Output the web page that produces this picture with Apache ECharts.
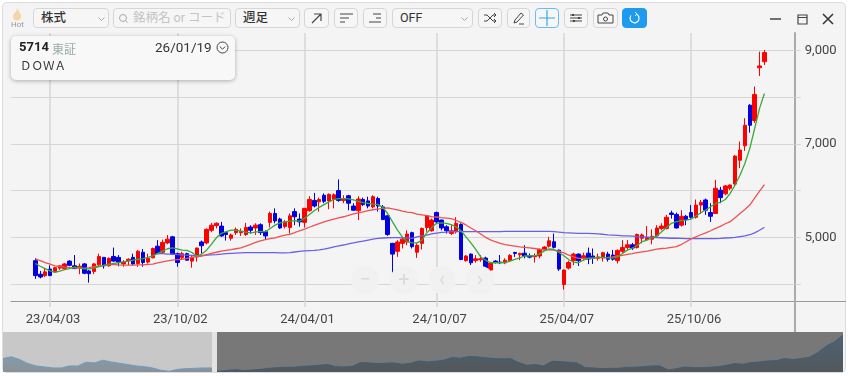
<!DOCTYPE html>
<html><head><meta charset="utf-8">
<script src="https://cdn.jsdelivr.net/npm/echarts@6/dist/echarts.min.js"></script>
<style>
html,body{margin:0;padding:0;width:850px;height:376px;background:#fff;overflow:hidden;font-family:Roboto,"Noto Sans CJK JP",sans-serif}
#panel{position:absolute;left:2px;top:2px;width:844px;height:371px;background:#f4f4f4;border:1px solid #dcdcdc;border-radius:5px;box-sizing:border-box}
#chart{position:absolute;left:0;top:0;width:850px;height:376px}
.b{position:absolute;top:8px;height:20px;box-sizing:border-box;border:1px solid #d6d6d6;border-radius:4px;background:#f6f6f6;font-size:12.500px;color:#333;line-height:18px;padding-left:7px}
.b svg{position:absolute;left:0;top:0}
.ic{padding:0;text-align:center}
#info{position:absolute;left:11px;top:36px;width:224px;height:44px;background:#f8f8f8;border-radius:5px;box-shadow:0 1px 4px rgba(0,0,0,.3)}
.t{position:absolute;white-space:nowrap}
.nav{position:absolute;top:266px;width:28px;height:28px;border-radius:14px;background:#f1f1f1;color:#dadada;text-align:center;font-size:20px;line-height:27px}
</style></head>
<body>
<div id="panel"></div>
<div id="chart"></div>
<div class="nav" style="left:351px">−</div><div class="nav" style="left:390px">+</div><div class="nav" style="left:428px">‹</div><div class="nav" style="left:466px">›</div>
<svg class="t" style="left:11px;top:8px" width="12" height="13" viewBox="0 0 12 13"><path d="M6 0C7 3 10 5 10 8.500C10 11 8 12.500 6 12.500C4 12.500 2 11 2 8.500C2 6.500 3.500 6 4 4C5 5 5.500 3 6 0Z" fill="#f2d7a6"/></svg>
<div class="t" style="left:11px;top:20px;font-size:8px;color:#999">Hot</div>
<div class="b" style="left:33px;width:76px"><b style="font-weight:500">株式</b><svg style="left:64px;top:8px" width="7" height="4"><path d="M.5 .5L3.500 3.500L6.500 .5" stroke="#aaa" fill="none"/></svg></div>
<div class="b" style="left:113px;width:118px;color:#c4c4c4;padding-left:19px"><svg style="left:4px;top:4px" width="11" height="11"><circle cx="5" cy="5" r="3.500" stroke="#aaa" fill="none"/><path d="M7.500 7.500L9.500 9.500" stroke="#aaa"/></svg>銘柄名 or コード</div>
<div class="b" style="left:235px;width:65px"><b style="font-weight:500">週足</b><svg style="left:52px;top:8px" width="7" height="4"><path d="M.5 .5L3.500 3.500L6.500 .5" stroke="#aaa" fill="none"/></svg></div>
<div class="b ic" style="left:304px;width:25px"><svg width="23" height="18"><path d="M7 14L16 5M9 5H16V12" stroke="#444" fill="none" stroke-width="1.200"/></svg></div>
<div class="b ic" style="left:334px;width:24px"><svg width="22" height="18"><path d="M5 5H18M5 9H14M5 13H10" stroke="#444" fill="none"/></svg></div>
<div class="b ic" style="left:363px;width:24px"><svg width="22" height="18"><path d="M9 5H17M12 9H17M5 13H17" stroke="#444" fill="none"/></svg></div>
<div class="b" style="left:392px;width:81px">OFF<svg style="left:68px;top:8px" width="7" height="4"><path d="M.5 .5L3.500 3.500L6.500 .5" stroke="#aaa" fill="none"/></svg></div>
<div class="b ic" style="left:478px;width:24px"><svg width="22" height="18"><path d="M5 6H8L14 12H17M5 12H8L14 6H17M15 4L17 6L15 8M15 10L17 12L15 14" stroke="#444" fill="none"/></svg></div>
<div class="b ic" style="left:507px;width:23px"><svg width="21" height="18"><path d="M6 14L7 11L13 4L15.500 6L9 13ZM11 15H16" stroke="#444" fill="none"/></svg></div>
<div class="b ic" style="left:535px;width:24px;border-color:#6bbcf5"><svg width="22" height="18"><path d="M3 9H19M11 1V17" stroke="#3aa4ee" fill="none" stroke-width="1.200"/></svg></div>
<div class="b ic" style="left:564px;width:24px"><svg width="22" height="18"><path d="M5 6H17M5 9H17M5 12H17" stroke="#444"/><path d="M8 5V7M14 8V10M9 11V13" stroke="#444" stroke-width="2"/></svg></div>
<div class="b ic" style="left:593px;width:25px"><svg width="23" height="18"><path d="M4 6H8L9 4H14L15 6H19V14H4Z" stroke="#444" fill="none"/><circle cx="11.500" cy="10" r="2" stroke="#444" fill="none"/></svg></div>
<div class="b ic" style="left:622px;width:25px;background:#1e9bf0;border-color:#1e9bf0"><svg width="23" height="18"><path d="M13 5A4.500 4.500 0 1 1 8 6.500" stroke="#fff" fill="none" stroke-width="1.200"/><path d="M12 3L14 5L12 7" stroke="#fff" fill="none"/></svg></div>
<svg class="t" style="left:765px;top:10px" width="75" height="18"><path d="M5 9H16" stroke="#444" stroke-width="1.500"/><path d="M33 5H42V14H33ZM33 7.500H42" stroke="#444" fill="none" stroke-width="1.200"/><path d="M58 4L68 14M68 4L58 14" stroke="#333" stroke-width="1.500"/></svg>
<div id="info">
<div class="t" style="left:8px;top:3px;font-size:13px;font-weight:700;color:#222">5714</div>
<div class="t" style="left:41px;top:4px;font-size:12px;color:#9aa">東証</div>
<div class="t" style="left:144px;top:3px;font-size:13.500px;color:#333">26/01/19</div>
<svg class="t" style="left:205px;top:5px" width="13" height="13"><circle cx="6.500" cy="6.500" r="5.500" stroke="#444" fill="none"/><path d="M3.800 5.500L6.500 8.200L9.200 5.500" stroke="#444" fill="none"/></svg>
<div class="t" style="left:9px;top:21px;font-size:11.500px;color:#333">ＤＯＷＡ</div>
</div>
<script>
const categories=['23/02/06','23/02/13','23/02/20','23/02/27','23/03/06','23/03/13','23/03/20','23/03/27','23/04/03','23/04/10','23/04/17','23/04/24','23/05/01','23/05/08','23/05/15','23/05/22','23/05/29','23/06/05','23/06/12','23/06/19','23/06/26','23/07/03','23/07/10','23/07/17','23/07/24','23/07/31','23/08/07','23/08/14','23/08/21','23/08/28','23/09/04','23/09/11','23/09/18','23/09/25','23/10/02','23/10/09','23/10/16','23/10/23','23/10/30','23/11/06','23/11/13','23/11/20','23/11/27','23/12/04','23/12/11','23/12/18','23/12/25','24/01/01','24/01/08','24/01/15','24/01/22','24/01/29','24/02/05','24/02/12','24/02/19','24/02/26','24/03/04','24/03/11','24/03/18','24/03/25','24/04/01','24/04/08','24/04/15','24/04/22','24/04/29','24/05/06','24/05/13','24/05/20','24/05/27','24/06/03','24/06/10','24/06/17','24/06/24','24/07/01','24/07/08','24/07/15','24/07/22','24/07/29','24/08/05','24/08/12','24/08/19','24/08/26','24/09/02','24/09/09','24/09/16','24/09/23','24/09/30','24/10/07','24/10/14','24/10/21','24/10/28','24/11/04','24/11/11','24/11/18','24/11/25','24/12/02','24/12/09','24/12/16','24/12/23','24/12/30','25/01/06','25/01/13','25/01/20','25/01/27','25/02/03','25/02/10','25/02/17','25/02/24','25/03/03','25/03/10','25/03/17','25/03/24','25/03/31','25/04/07','25/04/14','25/04/21','25/04/28','25/05/05','25/05/12','25/05/19','25/05/26','25/06/02','25/06/09','25/06/16','25/06/23','25/06/30','25/07/07','25/07/14','25/07/21','25/07/28','25/08/04','25/08/11','25/08/18','25/08/25','25/09/01','25/09/08','25/09/15','25/09/22','25/09/29','25/10/06','25/10/13','25/10/20','25/10/27','25/11/03','25/11/10','25/11/17','25/11/24','25/12/01','25/12/08','25/12/15','25/12/22','25/12/29','26/01/05','26/01/12','26/01/19','26/01/26','26/02/02','26/02/09','26/02/16','26/02/23','26/03/02'];
const firstWeek='23/03/13';
const dateTicks=['23/04/03','23/10/02','24/04/01','24/10/07','25/04/07','25/10/06'];
const priceTicks=[4000,5000,6000,7000,8000,9000];
const priceLabels=[5000,7000,9000];
const opens=[4500,4210,4180,4320,4260,4340,4330,4490,4390,4350,4430,4280,4270,4410,4570,4390,4590,4570,4430,4500,4570,4440,4680,4470,4560,4810,4680,4880,5010,4650,4570,4650,4490,4580,4900,4880,5150,5250,5240,5100,4980,5100,5100,5060,5220,5200,5270,5120,5320,5510,5390,5230,5210,5550,5390,5320,5570,5790,5760,5900,5780,5810,6000,5790,5890,5670,5570,5810,5780,5650,5830,5650,5460,4870,4700,4870,4900,5100,4680,4870,5210,5140,5530,5370,5225,5080,5120,5275,4500,4640,4500,4520,4555,4300,4490,4470,4455,4500,4675,4625,4660,4610,4585,4600,4730,4810,4905,4725,3990,4340,4500,4640,4545,4660,4600,4550,4560,4640,4620,4500,4700,4780,4840,4780,4980,4950,4960,5030,5190,5190,5520,5490,5260,5450,5530,5430,5690,5800,5530,5510,6010,5930,6050,6140,6650,6960,7830,7500,8630,8760];
const closes=[4180,4150,4260,4180,4350,4390,4430,4400,4330,4380,4230,4220,4430,4590,4390,4550,4490,4470,4470,4530,4430,4700,4460,4550,4760,4650,4890,4960,4640,4460,4650,4510,4570,4770,4820,5170,5260,5300,5030,5060,5050,5170,5130,5210,5150,5260,5100,5030,5510,5350,5200,5330,5460,5440,5330,5620,5810,5670,5810,5770,5920,5910,5790,5830,5730,5580,5820,5700,5670,5870,5670,5380,5060,4640,4900,4960,5070,4800,4830,5190,5460,5370,5330,5200,5140,5140,5300,4525,4600,4455,4540,4540,4310,4450,4460,4455,4510,4610,4655,4655,4600,4575,4605,4740,4790,4925,4785,4320,4300,4460,4640,4500,4605,4535,4550,4580,4670,4530,4530,4720,4780,4840,4770,5060,5050,5000,5020,5200,5240,5430,5490,5200,5450,5380,5430,5690,5750,5580,5450,6050,5850,6100,6120,6740,6870,7400,7400,8060,8670,8955];
const lows=[4110,4120,4150,4170,4250,4300,4300,4380,4320,4210,4210,4030,4210,4370,4330,4370,4480,4380,4370,4400,4400,4370,4370,4440,4550,4640,4650,4850,4620,4370,4530,4500,4350,4480,4650,4850,5110,5190,5010,4930,4930,5050,5030,5030,5080,5050,5050,4960,5210,5300,5180,5190,5080,5260,5230,5210,5550,5640,5550,5730,5600,5620,5760,5730,5580,5570,5370,5670,5620,5620,5550,5370,5030,4230,4580,4760,4830,4760,4560,4740,5120,5120,5300,5150,5080,5050,5080,4510,4480,4405,4455,4475,4300,4260,4440,4425,4425,4475,4580,4510,4550,4550,4460,4550,4710,4780,4760,4280,3880,4310,4405,4385,4510,4425,4430,4500,4480,4480,4500,4440,4650,4730,4730,4760,4870,4940,4850,5010,5150,5170,5400,5190,5230,5260,5400,5400,5500,5480,5330,5500,5730,5900,6010,6080,6480,6850,7240,7450,8455,8690];
const highs=[4550,4280,4330,4400,4370,4400,4450,4510,4620,4440,4450,4300,4450,4650,4580,4570,4780,4620,4510,4550,4650,4730,4750,4650,4780,4940,4950,5050,5030,4670,4690,4670,4620,4780,4930,5190,5310,5320,5330,5120,5080,5210,5190,5310,5260,5300,5300,5150,5550,5620,5420,5370,5510,5620,5510,5630,5880,5950,5850,5940,5940,5940,6240,5900,5910,5730,5880,5850,5870,5900,5870,5690,5480,4880,4940,5010,5150,5120,4870,5210,5475,5400,5550,5380,5260,5260,5430,5300,4620,4655,4620,4620,4585,4475,4510,4620,4550,4640,4690,4670,4830,4655,4655,4760,4810,5010,5080,4740,4310,4500,4670,4655,4670,4780,4760,4650,4690,4690,4730,4740,4940,4940,4880,5080,5080,5240,5170,5260,5300,5480,5570,5530,5580,5480,5690,5810,5800,5830,5730,6230,6080,6120,6130,6760,7050,7550,7850,8230,8975,9010];
const maShort=[4440,4380,4330,4280,4250,4275,4310,4330,4360,4350,4325,4325,4340,4370,4400,4425,4440,4455,4475,4490,4510,4530,4545,4570,4600,4655,4705,4755,4775,4750,4725,4720,4675,4600,4640,4725,4855,4990,5085,5120,5155,5155,5130,5110,5095,5110,5125,5120,5190,5260,5310,5330,5345,5355,5345,5405,5490,5570,5640,5700,5760,5810,5830,5830,5825,5800,5770,5745,5725,5710,5705,5640,5510,5330,5155,5010,4905,4880,4880,4940,5095,5210,5300,5310,5300,5270,5225,5140,5010,4880,4740,4580,4510,4455,4455,4455,4460,4490,4525,4560,4600,4605,4605,4640,4710,4750,4740,4675,4605,4525,4470,4455,4510,4550,4560,4570,4570,4560,4555,4580,4655,4725,4770,4830,4905,4940,4990,5030,5120,5210,5300,5335,5355,5370,5390,5455,5525,5585,5655,5725,5750,5810,5940,6120,6330,6580,6900,7330,7760,8080];
const maMid=[4540,4500,4460,4425,4390,4375,4360,4350,4345,4340,4340,4350,4370,4385,4400,4410,4420,4410,4405,4405,4405,4410,4410,4420,4425,4450,4475,4495,4510,4520,4530,4550,4570,4585,4600,4630,4655,4680,4705,4720,4735,4755,4775,4810,4850,4890,4925,4950,4970,4990,5020,5045,5065,5100,5140,5175,5215,5255,5295,5330,5360,5390,5415,5440,5470,5500,5525,5545,5570,5590,5605,5620,5630,5610,5585,5560,5540,5530,5495,5480,5465,5445,5435,5420,5410,5400,5360,5320,5265,5200,5140,5070,5000,4945,4905,4870,4845,4825,4810,4795,4785,4775,4760,4745,4735,4730,4725,4705,4665,4620,4580,4550,4550,4550,4555,4560,4565,4570,4580,4600,4615,4635,4650,4670,4690,4705,4725,4745,4760,4770,4785,4800,4845,4905,4965,5010,5055,5095,5140,5190,5235,5290,5335,5420,5510,5595,5690,5840,5990,6130];
const maLong=[null,null,null,null,null,null,null,null,null,null,null,null,null,null,null,null,null,null,null,null,null,null,null,null,null,4650,4650,4640,4640,4630,4625,4620,4610,4600,4605,4620,4625,4630,4640,4650,4655,4660,4665,4670,4670,4670,4670,4670,4670,4670,4665,4665,4670,4685,4700,4710,4715,4720,4730,4745,4770,4795,4815,4835,4860,4880,4900,4920,4940,4960,4975,4985,4990,4995,4995,4990,4985,4975,5010,5030,5045,5075,5090,5105,5110,5120,5120,5120,5120,5120,5120,5120,5120,5120,5120,5120,5125,5125,5125,5125,5125,5125,5125,5125,5125,5125,5120,5110,5100,5095,5090,5085,5085,5085,5080,5075,5065,5050,5045,5040,5030,5030,5025,5015,5010,5005,5000,4995,4990,4985,4980,4980,4975,4970,4970,4970,4970,4970,4970,4970,4975,4985,4990,5000,5015,5030,5055,5095,5150,5215];
const overview=[5960,6180,5830,5300,4990,4860,4730,4730,4990,4990,5480,5390,5740,5520,5340,5170,4990,4900,4730,4420,4290,4550,4640,4680,4730,4730,4290,4420,4510,4380,4460,4550,4680,4770,4820,4820,4950,4990,5080,5170,4900,4860,4950,5430,5390,5300,5340,5390,5210,5340,5650,5520,5610,5740,6090,6000,6220,6180,6050,5960,5920,5960,5430,5080,5170,4990,5610,5560,5480,5390,4770,4730,4640,4680,4680,4820,4820,4900,4990,4990,4460,4640,4860,4770,4770,4820,4900,5080,5300,5210,5430,5520,5650,5700,5960,5830,5960,6140,6750,7590,8160,9040];

const start=categories.indexOf(firstWeek);
const inRange=(i,arr)=>{const k=i-start;return k>=0&&k<arr.length?k:-1;};
const candles=categories.map((_,i)=>{const k=inRange(i,opens);return k<0?'-':[opens[k],closes[k],lows[k],highs[k]];});
const pad=arr=>categories.map((_,i)=>{const k=inRange(i,arr);return k<0||arr[k]==null?'-':arr[k];});
const chart=echarts.init(document.getElementById('chart'),null,{renderer:'canvas',width:850,height:376});
const lineS=(d,c)=>({type:'line',data:pad(d),symbol:'none',silent:true,connectNulls:false,xAxisIndex:0,yAxisIndex:0,lineStyle:{color:c,width:1.3},z:5,animation:false});
chart.setOption({
 animation:false,backgroundColor:'transparent',
 grid:[{left:10.9,top:33,width:782.9,height:268},{left:3,top:335,width:840,height:37}],
 xAxis:[{type:'category',gridIndex:0,data:categories,boundaryGap:false,
   axisLine:{lineStyle:{color:'#999',width:1}},
   axisTick:{show:true,length:6,customValues:dateTicks.map(d=>categories.indexOf(d)),lineStyle:{color:'#d6d6d6',width:1.5}},
   axisLabel:{customValues:dateTicks.map(d=>categories.indexOf(d)),color:'#444',fontFamily:'Roboto',fontSize:13,margin:12,padding:[0,0,0,6]},
   splitLine:{show:true,lineStyle:{color:'#d6d6d6',width:1.5}}},
  {type:'category',gridIndex:1,data:overview.map((_,i)=>i),boundaryGap:false,show:false}],
 yAxis:[{type:'value',gridIndex:0,position:'right',offset:1,min:3636,max:9375,
   axisLine:{show:true,lineStyle:{color:'#aaa',width:2}},
   axisTick:{show:true,length:6,customValues:priceTicks,lineStyle:{color:'#d6d6d6'}},
   axisLabel:{customValues:priceLabels,color:'#444',fontFamily:'Roboto',fontSize:13,margin:10,padding:[2,0,0,0],formatter:v=>v.toLocaleString('en-US')},
   splitLine:{show:true,lineStyle:{color:'#d6d6d6',width:1}}},
  {type:'value',gridIndex:1,min:4200,max:9040,show:false}],
 series:[
  {type:'candlestick',data:candles,barWidth:4,xAxisIndex:0,yAxisIndex:0,z:3,
   itemStyle:{color:'#ff0000',color0:'#0000e0',borderColor:'#ff0000',borderColor0:'#0000e0',borderWidth:1}},
  lineS(maLong,'#6a60e8'),lineS(maMid,'#f05050'),lineS(maShort,'#3aa83a'),
  {type:'line',data:overview,xAxisIndex:1,yAxisIndex:1,symbol:'none',silent:true,z:2,
   lineStyle:{color:'#6a9cc4',width:1},
   areaStyle:{color:new echarts.graphic.LinearGradient(0,0,0,1,[{offset:0,color:'#7fa5c0'},{offset:1,color:'#8a9298'}]),opacity:1}}
 ],
 graphic:[
  {type:'rect',shape:{x:3,y:332,width:840,height:40},style:{fill:'#c8c8c8'},z:-10,silent:true},
  {type:'rect',shape:{x:217,y:332,width:626,height:40},style:{fill:'rgba(0,0,0,0.4)'},z:100,silent:true},
  {type:'rect',shape:{x:212,y:332,width:5,height:40},style:{fill:'#e4e4e4'},z:100,silent:true},
  {type:'line',shape:{x1:794,y1:301.5,x2:846,y2:301.5},style:{stroke:'#999',lineWidth:1},z:10,silent:true},
  {type:'line',shape:{x1:795,y1:301,x2:795,y2:332},style:{stroke:'#aaa',lineWidth:2},z:10,silent:true}
 ]
});
</script>
</body></html>
